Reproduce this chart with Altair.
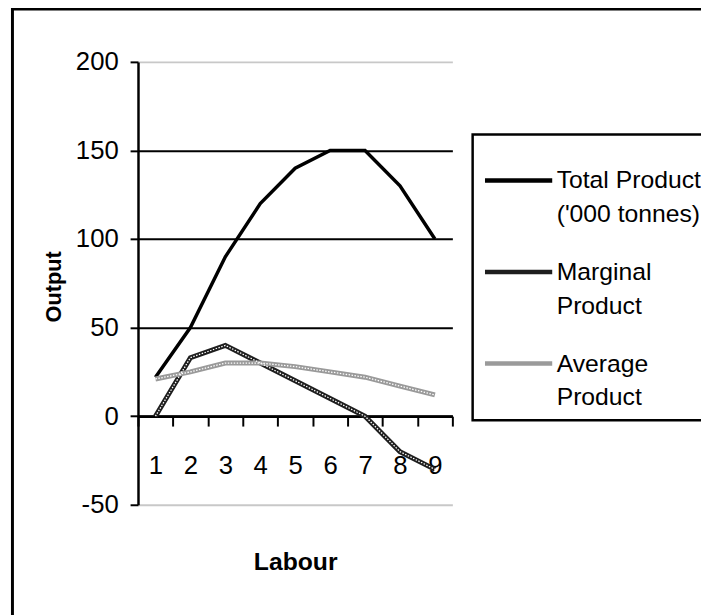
import altair as alt
import pandas as pd

# ---- data ----
labour = [1, 2, 3, 4, 5, 6, 7, 8, 9]
total_product = [22, 50, 90, 120, 140, 150, 150, 130, 100]
marginal_product = [0, 33, 40, 30, 20, 10, 0, -20, -30]
average_product = [21, 25, 30, 30, 28, 25, 22, 17, 12]
series_names = ["Total Product|('000 tonnes)", "Marginal|Product", "Average|Product"]
series_colors = ["#000000", "#1e1e1e", "#9a9a9a"]
y_ticks = [-50, 0, 50, 100, 150, 200]
x_ticks = [0.5, 1, 1.5, 2, 2.5, 3, 3.5, 4, 4.5, 5, 5.5, 6, 6.5, 7, 7.5, 8, 8.5, 9, 9.5]

rows = []
for name, vals in zip(series_names, [total_product, marginal_product, average_product]):
    for lab, v in zip(labour, vals):
        rows.append({"labour": lab, "value": v, "series": name})
df = pd.DataFrame(rows)

FONT = "Liberation Sans, Arial, sans-serif"

W, H = 318, 448

x_enc = alt.X(
    "labour:Q",
    scale=alt.Scale(domain=[0.5, 9.5], nice=False, zero=False),
    axis=alt.Axis(
        values=x_ticks,
        tickCount=60,
        title="Labour",
        offset=-89.6,
        grid=False,
        labelExpr="datum.value % 1 == 0 ? datum.value + '' : ''",
        tickOpacity={"condition": {"test": "datum.value % 1 != 0", "value": 1}, "value": 0},
        tickSize=10,
        tickWidth=2,
        labelPadding=27,
        labelFlush=False,
        labelOverlap=False,
        labelFontSize=26,
        domainWidth=2.5,
        titleFont=FONT,
        titleFontWeight="bold",
        titleFontSize=25,
        titleBaseline="alphabetic",
        titleY=155,
    ),
)
y_enc = alt.Y(
    "value:Q",
    scale=alt.Scale(domain=[-50, 200], nice=False, zero=False),
    axis=alt.Axis(
        values=y_ticks,
        tickCount=20,
        title="Output",
        grid=True,
        gridColor={"condition": {"test": "datum.value == 200 || datum.value == -50", "value": "#c8c8c8"}, "value": "#000000"},
        gridWidth=2,
        tickSize=8,
        tickWidth=2,
        labelPadding=12,
        labelFontSize=26,
        labelExpr="datum.value + ''",
        domainWidth=2.5,
        titleFont=FONT,
        titleFontWeight="bold",
        titleFontSize=22,
        titleBaseline="alphabetic",
        titleX=-78.5,
        titleY=227,
    ),
)

color_enc = alt.Color(
    "series:N",
    sort=series_names,
    scale=alt.Scale(domain=series_names, range=series_colors),
    legend=alt.Legend(
        orient="none",
        legendX=338.5,
        legendY=73.5,
        title=None,
        labelExpr="split(datum.label, '|')",
        labelFont=FONT,
        labelFontSize=25,
        labelLimit=400,
        labelColor="#000000",
        labelOffset=2,
        symbolType="stroke",
        symbolSize=4624,
        symbolStrokeWidth=4.5,
        strokeColor="#000000",
        fillColor="#ffffff",
        padding=10,
        rowPadding=8.6,
    ),
)

total_line = alt.Chart(df).transform_filter(
    alt.datum.series == series_names[0]
).mark_line(strokeWidth=3.5, strokeJoin="miter").encode(x=x_enc, y=y_enc, color=color_enc)

other_lines = alt.Chart(df).transform_filter(
    alt.datum.series != series_names[0]
).mark_line(strokeWidth=5, strokeJoin="miter").encode(x="labour:Q", y="value:Q", color=color_enc)

texture = alt.Chart(df).transform_filter(
    alt.datum.series != series_names[0]
).mark_line(color="#ffffff", strokeWidth=1.3, strokeDash=[1.5, 1.5], strokeJoin="miter").encode(
    x="labour:Q", y="value:Q", detail="series:N"
)

border = alt.Chart(pd.DataFrame({"b": [0]})).mark_rect(
    fill="transparent", stroke="#000000", strokeWidth=3
).encode(
    x=alt.value(-127), x2=alt.value(800), y=alt.value(-53.5), y2=alt.value(800)
)

chart = alt.layer(border, total_line, other_lines, texture).properties(
    width=W,
    height=H,
    padding={"left": 131.5, "top": 51, "right": 251.5, "bottom": 108},
    autosize=alt.AutoSizeParams(type="none"),
    background="#ffffff",
).configure(
    view={"stroke": None},
    axis={
        "domainColor": "#000000",
        "tickColor": "#000000",
        "labelColor": "#000000",
        "titleColor": "#000000",
        "labelFont": FONT,
    },
    legend={"strokeWidth": 2.5},
    style={"guide-label": {"lineHeight": 34}},
)

chart.save("out.html", embed_options={"renderer": "svg", "actions": False})
